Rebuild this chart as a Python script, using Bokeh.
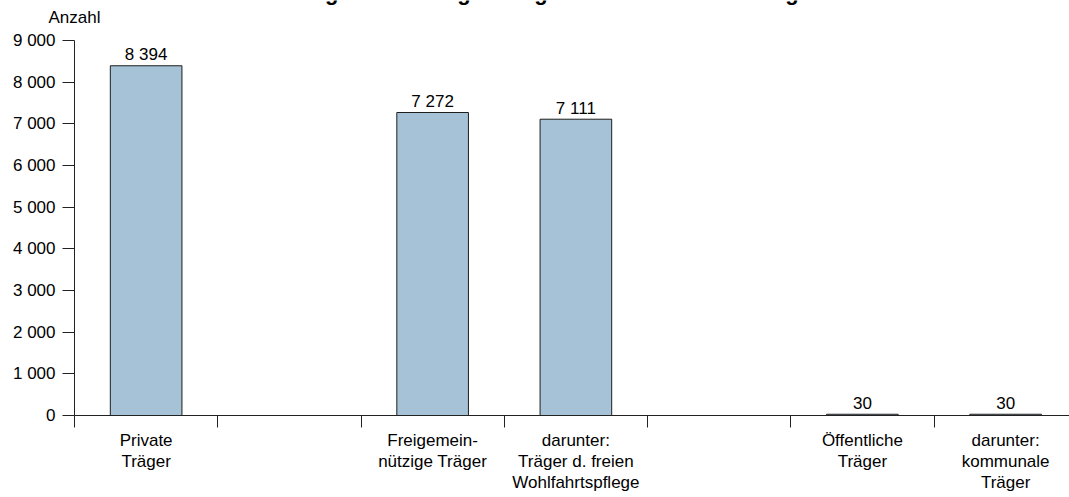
from bokeh.plotting import figure
from bokeh.models import Range1d, FixedTicker, ColumnDataSource
from bokeh.core.properties import value
from bokeh.embed import file_html
from bokeh.resources import INLINE

# ---- data -------------------------------------------------------------
title_text = "Pflegeeinrichtungen insgesamt nach Art der Träger"
y_unit = "Anzahl"
slot_labels = [
    "Private\nTräger",
    "",
    "Freigemein-\nnützige Träger",
    "darunter:\nTräger d. freien\nWohlfahrtspflege",
    "",
    "Öffentliche\nTräger",
    "darunter:\nkommunale\nTräger",
]
values = [8394, None, 7272, 7111, None, 30, 30]
value_labels = ["8 394", "", "7 272", "7 111", "", "30", "30"]
y_ticks = [0, 1000, 2000, 3000, 4000, 5000, 6000, 7000, 8000, 9000]
y_tick_labels = ["0", "1 000", "2 000", "3 000", "4 000", "5 000",
                 "6 000", "7 000", "8 000", "9 000"]

# ---- layout -----------------------------------------------------------
FONT = "Liberation Sans"
W, H = 1069, 497
AXIS_X_PX = 74          # pixel column of the value axis
AXIS_Y_PX = 415         # pixel row of the category axis (value 0)
SLOT = 143.25           # pixel width of one category slot
Y_MAX = 9000
Y_PER_PX = Y_MAX / (AXIS_Y_PX - 40)   # 9 000 sits 40 px below the top


def px_to_x(px):
    return -0.5 + (px - AXIS_X_PX) / SLOT


def px_to_y(py):
    return (AXIS_Y_PX - py) * Y_PER_PX


# the frame fills the whole canvas; both axes are pinned inside it
p = figure(
    width=W, height=H,
    x_range=Range1d(px_to_x(0), px_to_x(W)),
    y_range=Range1d(px_to_y(H), px_to_y(0)),
    output_backend="svg", toolbar_location=None,
    min_border=0, min_border_left=0, min_border_right=0,
    min_border_top=0, min_border_bottom=0,
)
p.outline_line_color = None
p.grid.visible = False
p.background_fill_color = "white"
p.border_fill_color = "white"

# bars and their value labels
idx = [i for i, v in enumerate(values) if v is not None]
src = ColumnDataSource(dict(
    x=idx,
    top=[values[i] for i in idx],
    label=[value_labels[i] for i in idx],
))
p.vbar(x="x", top="top", bottom=0, width=0.5, source=src,
       fill_color="#A5C2D6", line_color="#1e1e1e", line_width=1)
p.text(x="x", y="top", text="label", source=src,
       text_align="center", text_baseline="middle", y_offset=-11,
       text_font=value(FONT), text_font_size="17px", text_color="black")

AXIS_COLOR = "#222222"

# y axis
ya = p.yaxis[0]
ya.fixed_location = -0.5
ya.bounds = (0, Y_MAX)
ya.ticker = FixedTicker(ticks=y_ticks, minor_ticks=[])
ya.major_label_overrides = {t: s for t, s in zip(y_ticks, y_tick_labels)}
ya.major_tick_out = 12
ya.major_tick_in = 0
ya.minor_tick_line_color = None
ya.axis_line_color = AXIS_COLOR
ya.major_tick_line_color = AXIS_COLOR
ya.major_label_standoff = 7
ya.major_label_text_font = FONT
ya.major_label_text_font_size = "17px"
ya.major_label_text_color = "black"

# x axis: labels at slot centres, tick marks at slot boundaries
xa = p.xaxis[0]
xa.fixed_location = 0
xa.bounds = (-0.5, px_to_x(W))
xa.ticker = FixedTicker(ticks=list(range(len(slot_labels))),
                        minor_ticks=[i - 0.5 for i in range(len(slot_labels) + 1)])
xa.major_label_overrides = {i: s for i, s in enumerate(slot_labels)}
xa.major_tick_out = 0
xa.major_tick_in = 0
xa.minor_tick_out = 12
xa.minor_tick_in = 0
xa.minor_tick_line_color = AXIS_COLOR
xa.axis_line_color = AXIS_COLOR
xa.major_label_standoff = 3
xa.major_label_text_font = FONT
xa.major_label_text_font_size = "17px"
xa.major_label_text_color = "black"
xa.major_label_text_line_height = 1.13

# unit label centred over the value axis
p.text(x=[px_to_x(AXIS_X_PX)], y=[px_to_y(17)], text=[y_unit],
       text_align="center", text_baseline="middle",
       text_font=value(FONT), text_font_size="17px", text_color="black")

# chart title, running off the top edge
p.text(x=[px_to_x(552)], y=[px_to_y(-8)], text=[title_text],
       text_align="center", text_baseline="middle",
       text_font=value(FONT), text_font_size="22px", text_font_style="bold",
       text_color="black")

open("out.html", "w").write(file_html(p, INLINE))
